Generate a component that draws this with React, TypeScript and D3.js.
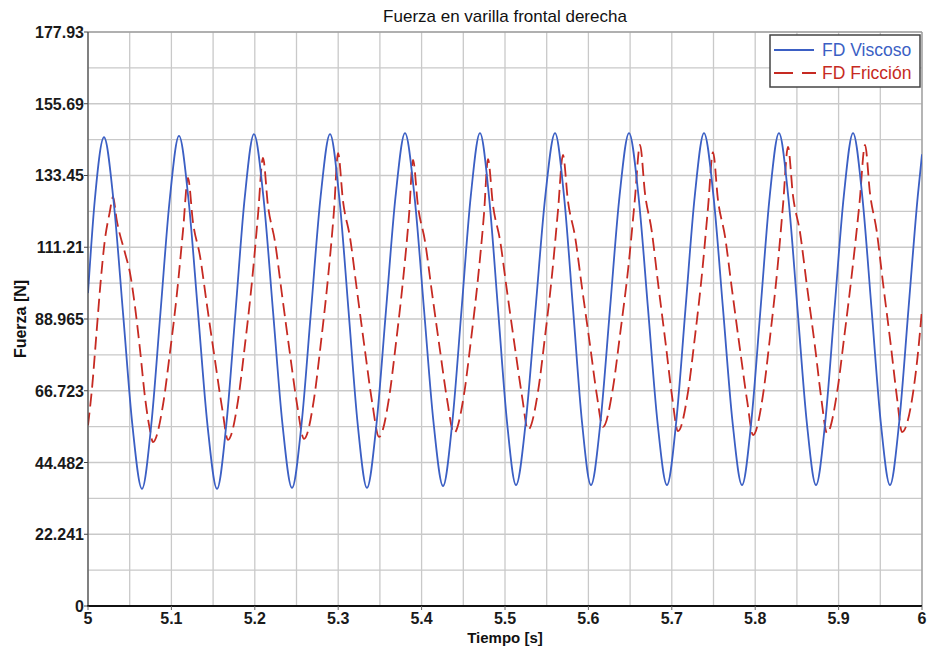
import React from "react";
import * as d3 from "d3";

const TITLE = "Fuerza en varilla frontal derecha";
const X_LABEL = "Tiempo [s]";
const Y_LABEL = "Fuerza [N]";
const SERIES_NAMES = ["FD Viscoso", "FD Fricción"];

const X_TICKS = [5, 5.1, 5.2, 5.3, 5.4, 5.5, 5.6, 5.7, 5.8, 5.9, 6];
const X_TICK_LABELS = ["5", "5.1", "5.2", "5.3", "5.4", "5.5", "5.6", "5.7", "5.8", "5.9", "6"];
const X_MINOR = [5.05, 5.15, 5.25, 5.35, 5.45, 5.55, 5.65, 5.75, 5.85, 5.95];
const Y_TICKS = [0, 22.241, 44.482, 66.723, 88.965, 111.21, 133.45, 155.69, 177.93];
const Y_TICK_LABELS = ["0", "22.241", "44.482", "66.723", "88.965", "111.21", "133.45", "155.69", "177.93"];
const Y_MINOR = [11.12, 33.36, 55.6, 77.84, 100.09, 122.33, 144.57, 166.81];

// FD Viscoso
const viscosoT = [
  5.0, 5.0081, 5.0192, 5.0306, 5.042, 5.0533, 5.0647, 5.0758, 5.0869, 5.098, 5.1091,
  5.1205, 5.1319, 5.1433, 5.1547, 5.1658, 5.1769, 5.1879, 5.199, 5.2104, 5.2218, 5.2332,
  5.2446, 5.256, 5.2674, 5.2788, 5.2902, 5.3013, 5.3124, 5.3234, 5.3345, 5.3459, 5.3573,
  5.3687, 5.3801, 5.3915, 5.4029, 5.4143, 5.4257, 5.4368, 5.4479, 5.4589, 5.47, 5.4808,
  5.4916, 5.5024, 5.5132, 5.5249, 5.5366, 5.5483, 5.56, 5.5708, 5.5816, 5.5923, 5.6031,
  5.6145, 5.6259, 5.6373, 5.6487, 5.6601, 5.6715, 5.6828, 5.6942, 5.7053, 5.7164, 5.7275,
  5.7386, 5.75, 5.7614, 5.7728, 5.7842, 5.7953, 5.8064, 5.8174, 5.8285, 5.8396, 5.8507,
  5.8618, 5.8729, 5.884, 5.8951, 5.9062, 5.9173, 5.9284, 5.9395, 5.9505, 5.9616, 5.9727,
  5.9838, 5.9949, 6.0,
];
const viscosoV = [
  97, 125.7, 145.3, 125.7, 90.8, 55.9, 36.3, 56.0, 91.0, 126.0, 145.7,
  126.0, 91.0, 56.0, 36.3, 56.1, 91.3, 126.5, 146.3, 126.6, 91.5, 56.3,
  36.6, 56.3, 91.5, 126.6, 146.3, 126.6, 91.5, 56.3, 36.6, 56.4, 91.6,
  126.8, 146.6, 126.9, 91.9, 56.9, 37.2, 56.9, 91.9, 126.9, 146.6, 127.0,
  92.1, 57.1, 37.5, 57.1, 92.1, 127.0, 146.6, 127.0, 92.1, 57.1, 37.5,
  57.1, 92.1, 127.0, 146.6, 127.0, 92.1, 57.1, 37.5, 57.1, 92.1, 127.0,
  146.6, 127.0, 92.1, 57.1, 37.5, 57.1, 92.1, 127.0, 146.6, 127.0, 92.1,
  57.1, 37.5, 57.1, 92.1, 127.0, 146.6, 127.0, 92.1, 57.1, 37.5, 57.1,
  92.1, 127.0, 140.0,
];

// FD Fricción
const friccionT = [
  5.0, 5.005, 5.01, 5.015, 5.02, 5.026, 5.03, 5.0344, 5.0444, 5.0504, 5.0564, 5.0624, 5.0683, 5.0743, 5.0779,
  5.0899, 5.0979, 5.1069, 5.1139, 5.1199, 5.1259, 5.1344, 5.1424, 5.1524, 5.1609, 5.1679,
  5.1799, 5.1879, 5.1969, 5.2039, 5.2098, 5.2158, 5.2243, 5.2323, 5.2423, 5.2508, 5.259,
  5.271, 5.279, 5.288, 5.295, 5.2998, 5.3058, 5.3143, 5.3223, 5.3323, 5.3408, 5.3489,
  5.3609, 5.3689, 5.3779, 5.3849, 5.3897, 5.3957, 5.4042, 5.4122, 5.4222, 5.4307, 5.4388,
  5.4508, 5.4588, 5.4678, 5.4748, 5.4796, 5.4856, 5.4941, 5.5021, 5.5121, 5.5206, 5.5276,
  5.5396, 5.5476, 5.5566, 5.5636, 5.5695, 5.5755, 5.584, 5.592, 5.602, 5.61, 5.6175,
  5.6295, 5.638, 5.648, 5.6555, 5.6619, 5.6679, 5.6759, 5.6834, 5.6929, 5.7004, 5.7074,
  5.7194, 5.7274, 5.7364, 5.7434, 5.7494, 5.7554, 5.7639, 5.7719, 5.7819, 5.7904, 5.7974,
  5.8094, 5.8174, 5.8264, 5.8334, 5.8393, 5.8453, 5.8538, 5.8618, 5.8718, 5.8793, 5.8861,
  5.8981, 5.9066, 5.9166, 5.9251, 5.9317, 5.9377, 5.9457, 5.9532, 5.9627, 5.97, 5.976,
  5.988, 5.995, 6.0,
];
const friccionV = [
  56, 68, 84, 100, 113, 122, 126.8, 119.7, 109.4, 103.2, 92.7, 79.4, 64.8, 54.6, 50.8,
  62.3, 77.8, 97.5, 116.3, 132.7, 118.9, 108.3, 93.7, 75.9, 61.2, 51.5,
  63.7, 80.3, 101.3, 121.4, 138.9, 124.1, 112.8, 97.1, 77.9, 62.3, 51.8,
  64.2, 81.0, 102.3, 122.7, 140.4, 125.4, 114.0, 98.2, 78.8, 63.0, 52.4,
  64.4, 80.7, 101.4, 121.1, 138.3, 123.9, 112.9, 97.6, 79.0, 63.8, 53.6,
  65.5, 81.6, 102.0, 121.5, 138.5, 124.2, 113.3, 98.2, 79.8, 64.7, 54.6,
  66.5, 82.7, 103.2, 122.8, 139.8, 125.5, 114.5, 99.3, 80.8, 65.6, 55.5,
  67.7, 84.3, 105.3, 125.4, 142.9, 127.8, 116.3, 100.3, 80.8, 64.8, 54.2,
  66.3, 82.7, 103.5, 123.4, 140.7, 125.8, 114.4, 98.6, 79.3, 63.5, 53.0,
  65.5, 82.5, 103.9, 124.4, 142.3, 127.2, 115.7, 99.7, 80.2, 64.2, 53.6,
  66.1, 83.1, 104.5, 125.0, 142.9, 127.8, 116.2, 100.2, 80.6, 64.6, 53.9,
  64, 78, 92,
];

const W = 930;
const H = 649;
const M = { left: 88, right: 922, top: 32, bottom: 606 };
const BLUE = "#3b5fc4";
const RED = "#c62a22";
const FONT = "'Liberation Sans', Arial, Helvetica, sans-serif";

export default function App() {
  const x = d3.scaleLinear().domain([5, 6]).range([M.left, M.right]);
  const y = d3.scaleLinear().domain([0, 177.93]).range([M.bottom, M.top]);

  const line = d3
    .line<[number, number]>()
    .x((d) => x(d[0]))
    .y((d) => y(d[1]))
    .curve(d3.curveMonotoneX);

  const bluePts: [number, number][] = viscosoT.map((t, i) => [t, viscosoV[i]]);
  const redPts: [number, number][] = friccionT.map((t, i) => [t, friccionV[i]]);

  const gridColor = "#c9c9c9";

  return (
    <svg
      width={W}
      height={H}
      style={{ position: "absolute", left: 0, top: 0, background: "#fff" }}
      fontFamily={FONT}
    >
      <rect x={0} y={0} width={W} height={H} fill="#fff" />
      <defs>
        <clipPath id="plotclip">
          <rect x={M.left} y={M.top} width={M.right - M.left} height={M.bottom - M.top} />
        </clipPath>
      </defs>

      {/* grid */}
      {[...X_TICKS, ...X_MINOR].map((v, i) => (
        <line key={"gx" + i} x1={x(v)} x2={x(v)} y1={M.top} y2={M.bottom} stroke={gridColor} strokeWidth={1.3} />
      ))}
      {[...Y_TICKS, ...Y_MINOR].map((v, i) => (
        <line key={"gy" + i} x1={M.left} x2={M.right} y1={y(v)} y2={y(v)} stroke={gridColor} strokeWidth={1.3} />
      ))}

      {/* frame */}
      <line x1={M.left} x2={M.right} y1={M.top} y2={M.top} stroke="#8a8a8a" strokeWidth={1.2} />
      <line x1={M.right} x2={M.right} y1={M.top} y2={M.bottom} stroke="#9a9a9a" strokeWidth={1.2} />

      {/* series */}
      <g clipPath="url(#plotclip)">
        <path d={line(redPts) || ""} fill="none" stroke={RED} strokeWidth={1.8} strokeDasharray="13,6" />
        <path d={line(bluePts) || ""} fill="none" stroke={BLUE} strokeWidth={1.8} />
      </g>

      {/* axes */}
      <line x1={M.left} x2={M.left} y1={M.top} y2={M.bottom} stroke="#444" strokeWidth={1.2} />
      <line x1={M.left - 1} x2={M.right} y1={M.bottom} y2={M.bottom} stroke="#111" strokeWidth={2.2} />

      {Y_TICKS.map((v, i) => (
        <g key={"yt" + i}>
          <line x1={M.left - 4} x2={M.left} y1={y(v)} y2={y(v)} stroke="#444" strokeWidth={1} />
          <text
            x={M.left - 4}
            y={y(v) + 6}
            textAnchor="end"
            fontSize={16}
            fontWeight="bold"
            fill="#1a1a1a"
          >
            {Y_TICK_LABELS[i]}
          </text>
        </g>
      ))}
      {X_TICKS.map((v, i) => (
        <g key={"xt" + i}>
          <line x1={x(v)} x2={x(v)} y1={M.bottom} y2={M.bottom + 4} stroke="#666" strokeWidth={1} />
          <text x={x(v)} y={624} textAnchor="middle" fontSize={16} fontWeight="bold" fill="#1a1a1a">
            {X_TICK_LABELS[i]}
          </text>
        </g>
      ))}

      {/* titles */}
      <text x={(M.left + M.right) / 2} y={22} textAnchor="middle" fontSize={17} fill="#111">
        {TITLE}
      </text>
      <text x={(M.left + M.right) / 2} y={643} textAnchor="middle" fontSize={15} fontWeight="bold" fill="#111">
        {X_LABEL}
      </text>
      <text
        transform={`translate(26, ${(M.top + M.bottom) / 2}) rotate(-90)`}
        textAnchor="middle"
        fontSize={16}
        fontWeight="bold"
        fill="#111"
      >
        {Y_LABEL}
      </text>

      {/* legend */}
      <g>
        <rect x={770} y={35} width={150} height={52} fill="#fff" stroke="#444" strokeWidth={1.5} />
        <line x1={774} x2={814} y1={50} y2={50} stroke={BLUE} strokeWidth={1.8} />
        <text x={822} y={56} fontSize={17.5} fill={BLUE}>
          {SERIES_NAMES[0]}
        </text>
        <line x1={774} x2={816} y1={73} y2={73} stroke={RED} strokeWidth={1.8} strokeDasharray="19,9" />
        <text x={822} y={79} fontSize={17.5} fill={RED}>
          {SERIES_NAMES[1]}
        </text>
      </g>
    </svg>
  );
}
